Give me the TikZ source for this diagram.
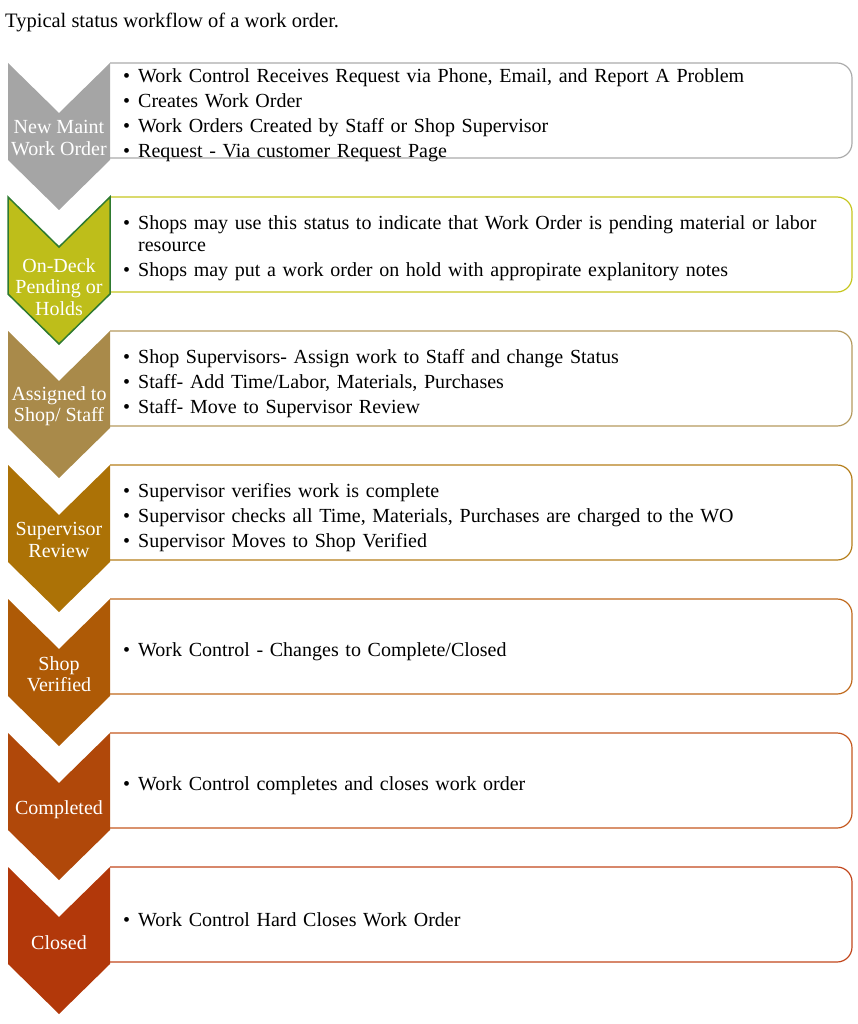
\documentclass[tikz,border=0pt]{standalone}
\usepackage{fontspec}
\setmainfont{Liberation Serif}
\usepackage{xcolor}
\usetikzlibrary{positioning}

\definecolor{cGray}{HTML}{A5A5A5}
\definecolor{bGray}{HTML}{ABABAB}
\definecolor{cOlive}{HTML}{BEBE1A}
\definecolor{bOlive}{HTML}{C6C61E}
\definecolor{gEdge}{HTML}{2E7A30}
\definecolor{cTan}{HTML}{A98A4A}
\definecolor{bTan}{HTML}{B59A5E}
\definecolor{cGold}{HTML}{AC7206}
\definecolor{bGold}{HTML}{B57E1A}
\definecolor{cAmber}{HTML}{AE5A06}
\definecolor{bAmber}{HTML}{C0691C}
\definecolor{cRust}{HTML}{B0480A}
\definecolor{bRust}{HTML}{C4581E}
\definecolor{cBrick}{HTML}{B2380A}
\definecolor{bBrick}{HTML}{C2461C}

\newcommand{\itm}[1]{\par\hangindent=15pt\hangafter=1\noindent\makebox[15pt][l]{\textbullet}#1}

\begin{document}
\begin{tikzpicture}[x=1pt, y=-1pt,
  chevron/.style={fill=#1},
  stepbox/.style={draw=#1, line width=1.2pt, rounded corners=15pt},
  tag/.style={text=white, align=center, inner sep=0pt, font=\fontsize{20}{21.5}\selectfont},
  items/.style={anchor=west, align=left, inner sep=0pt, text width=715pt,
    font=\fontsize{20}{22}\selectfont\setlength{\parskip}{3pt}}]
\useasboundingbox (0,0) rectangle (857,1024);

% Title
\node (Title) [anchor=base west, inner sep=0pt, font=\fontsize{20.5}{22}\selectfont] at (5,28) {Typical status workflow of a work order.};

% Boxes
\draw[stepbox=bGray] (110,63) -- (852,63) -- (852,158) -- (110,158);
\draw[stepbox=bOlive] (110,197) -- (852,197) -- (852,292) -- (110,292);
\draw[stepbox=bTan] (110,331) -- (852,331) -- (852,426) -- (110,426);
\draw[stepbox=bGold] (110,465) -- (852,465) -- (852,560) -- (110,560);
\draw[stepbox=bAmber] (110,599) -- (852,599) -- (852,694) -- (110,694);
\draw[stepbox=bRust] (110,733) -- (852,733) -- (852,828) -- (110,828);
\draw[stepbox=bBrick] (110,867) -- (852,867) -- (852,962) -- (110,962);

% Chevrons
\fill[chevron=cGray] (8,63) -- ++(51,50) -- ++(51,-50) -- ++(0,97) -- ++(-51,50) -- ++(-51,-50) -- cycle;
\filldraw[chevron=cOlive, draw=gEdge, line width=1.5pt] (8,197) -- ++(51,50) -- ++(51,-50) -- ++(0,97) -- ++(-51,50) -- ++(-51,-50) -- cycle;
\fill[chevron=cTan] (8,331) -- ++(51,50) -- ++(51,-50) -- ++(0,97) -- ++(-51,50) -- ++(-51,-50) -- cycle;
\fill[chevron=cGold] (8,465) -- ++(51,50) -- ++(51,-50) -- ++(0,97) -- ++(-51,50) -- ++(-51,-50) -- cycle;
\fill[chevron=cAmber] (8,599) -- ++(51,50) -- ++(51,-50) -- ++(0,97) -- ++(-51,50) -- ++(-51,-50) -- cycle;
\fill[chevron=cRust] (8,733) -- ++(51,50) -- ++(51,-50) -- ++(0,97) -- ++(-51,50) -- ++(-51,-50) -- cycle;
\fill[chevron=cBrick] (8,867) -- ++(51,50) -- ++(51,-50) -- ++(0,97) -- ++(-51,50) -- ++(-51,-50) -- cycle;

% Status labels
\node (NewWO) [tag] at (59,138) {New Maint\\Work Order};
\node (OnDeck) [tag] at (59,287) {On-Deck\\Pending or\\Holds};
\node (Assigned) [tag] at (59,406) {Assigned to\\Shop/ Staff};
\node (SupRev) [tag] at (59,540) {Supervisor\\Review};
\node (ShopVer) [tag] at (59,674) {Shop\\Verified};
\node (Completed) [tag] at (59,810) {Completed};
\node (Closed) [tag] at (59,943) {Closed};

% Bullet lists
\node (NewWOList) [items] at (123,110) {%
  \itm{Work Control Receives Request via Phone, Email, and Report A Problem}
  \itm{Creates Work Order}
  \itm{Work Orders Created by Staff or Shop Supervisor}
  \itm{Request - Via customer Request Page}};
\node (OnDeckList) [items] at (123,243) {%
  \itm{Shops may use this status to indicate that Work Order is pending material or labor resource}
  \itm{Shops may put a work order on hold with appropirate explanitory notes}};
\node (AssignedList) [items] at (123,378) {%
  \itm{Shop Supervisors- Assign work to Staff and change Status}
  \itm{Staff- Add Time/Labor, Materials, Purchases}
  \itm{Staff- Move to Supervisor Review}};
\node (SupRevList) [items] at (123,512) {%
  \itm{Supervisor verifies work is complete}
  \itm{Supervisor checks all Time, Materials, Purchases are charged to the WO}
  \itm{Supervisor Moves to Shop Verified}};
\node (ShopVerList) [items] at (123,646) {\itm{Work Control - Changes to Complete/Closed}};
\node (CompletedList) [items] at (123,780) {\itm{Work Control completes and closes work order}};
\node (ClosedList) [items] at (123,914) {\itm{Work Control Hard Closes Work Order}};
\end{tikzpicture}
\end{document}
